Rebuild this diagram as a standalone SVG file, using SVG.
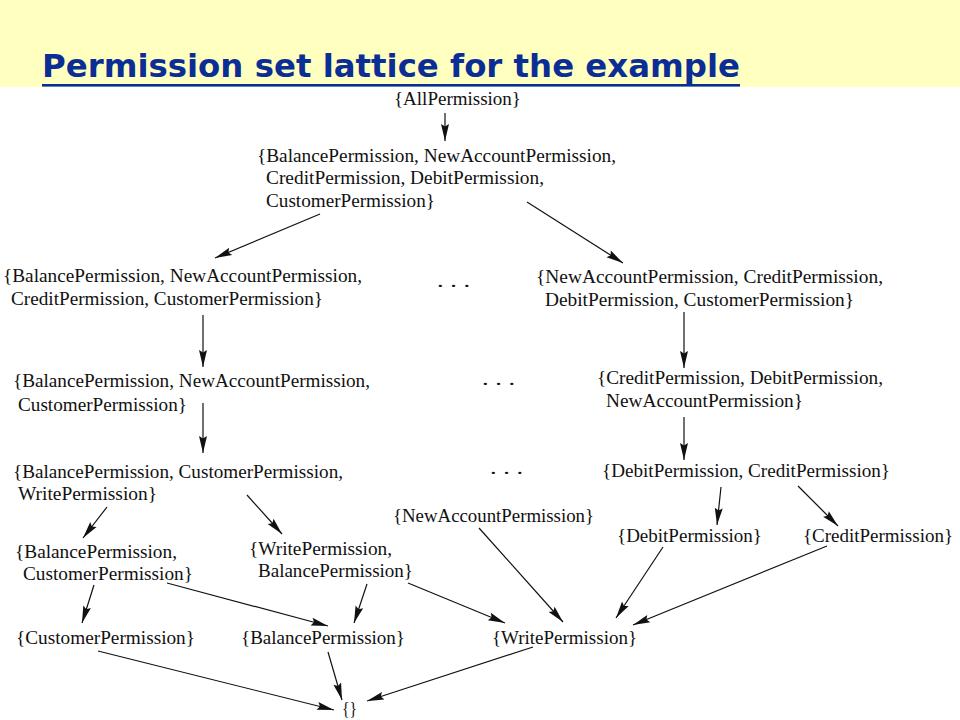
<svg xmlns="http://www.w3.org/2000/svg" width="960" height="720" viewBox="0 0 960 720">
<style>
.t{font-family:"Liberation Serif","Times New Roman",serif;font-size:19px;fill:#111}
.title{font-family:"DejaVu Sans","Noto Sans",sans-serif;font-weight:bold;font-size:32px;fill:#0a2d96}
.c line{stroke:#111;stroke-width:1.2;marker-end:url(#ah)}
</style>
<defs>
<marker id="ah" markerUnits="userSpaceOnUse" markerWidth="20" markerHeight="10" viewBox="-18 -5 19 10" refX="0" refY="0" orient="auto">
<path d="M0,0 L-17,-4 L-14.5,0 L-17,4 Z" fill="#111"/>
</marker>
</defs>
<rect x="0" y="0" width="960" height="720" fill="#fff"/>
<rect x="0" y="0" width="960" height="87" fill="#ffffc0"/>
<g id="title">
<text class="title" x="42" y="77" textLength="698" lengthAdjust="spacingAndGlyphs">Permission set lattice for the example</text>
<rect x="42" y="84" width="698" height="2.6" fill="#0a2d96"/>
</g>
<g id="n-all"><text class="t" x="394" y="105" textLength="127" lengthAdjust="spacingAndGlyphs">{AllPermission}</text></g>
<g id="n-bncdc">
<text class="t" x="257" y="162" textLength="359" lengthAdjust="spacingAndGlyphs">{BalancePermission, NewAccountPermission,</text>
<text class="t" x="266" y="184" textLength="278" lengthAdjust="spacingAndGlyphs">CreditPermission, DebitPermission,</text>
<text class="t" x="266" y="207" textLength="169" lengthAdjust="spacingAndGlyphs">CustomerPermission}</text>
</g>
<g id="n-bncc">
<text class="t" x="3" y="282" textLength="359" lengthAdjust="spacingAndGlyphs">{BalancePermission, NewAccountPermission,</text>
<text class="t" x="11" y="305" textLength="312" lengthAdjust="spacingAndGlyphs">CreditPermission, CustomerPermission}</text>
</g>
<g id="n-ncdc">
<text class="t" x="536" y="283" textLength="347" lengthAdjust="spacingAndGlyphs">{NewAccountPermission, CreditPermission,</text>
<text class="t" x="545" y="306" textLength="309" lengthAdjust="spacingAndGlyphs">DebitPermission, CustomerPermission}</text>
</g>
<g id="n-bnc">
<text class="t" x="13" y="387" textLength="357" lengthAdjust="spacingAndGlyphs">{BalancePermission, NewAccountPermission,</text>
<text class="t" x="18" y="411" textLength="169" lengthAdjust="spacingAndGlyphs">CustomerPermission}</text>
</g>
<g id="n-cdn">
<text class="t" x="597" y="384" textLength="286" lengthAdjust="spacingAndGlyphs">{CreditPermission, DebitPermission,</text>
<text class="t" x="606" y="407" textLength="197" lengthAdjust="spacingAndGlyphs">NewAccountPermission}</text>
</g>
<g id="n-bcw">
<text class="t" x="13" y="478" textLength="330" lengthAdjust="spacingAndGlyphs">{BalancePermission, CustomerPermission,</text>
<text class="t" x="18" y="500" textLength="139" lengthAdjust="spacingAndGlyphs">WritePermission}</text>
</g>
<g id="n-dc"><text class="t" x="602" y="477" textLength="288" lengthAdjust="spacingAndGlyphs">{DebitPermission, CreditPermission}</text></g>
<g id="n-n"><text class="t" x="393" y="522" textLength="201" lengthAdjust="spacingAndGlyphs">{NewAccountPermission}</text></g>
<g id="n-d"><text class="t" x="617" y="542" textLength="145" lengthAdjust="spacingAndGlyphs">{DebitPermission}</text></g>
<g id="n-c"><text class="t" x="803" y="542" textLength="150" lengthAdjust="spacingAndGlyphs">{CreditPermission}</text></g>
<g id="n-bc">
<text class="t" x="15" y="558" textLength="162" lengthAdjust="spacingAndGlyphs">{BalancePermission,</text>
<text class="t" x="23" y="580" textLength="170" lengthAdjust="spacingAndGlyphs">CustomerPermission}</text>
</g>
<g id="n-wb">
<text class="t" x="249" y="555" textLength="143" lengthAdjust="spacingAndGlyphs">{WritePermission,</text>
<text class="t" x="258" y="577" textLength="155" lengthAdjust="spacingAndGlyphs">BalancePermission}</text>
</g>
<g id="n-cu"><text class="t" x="16" y="644" textLength="179" lengthAdjust="spacingAndGlyphs">{CustomerPermission}</text></g>
<g id="n-b"><text class="t" x="241" y="644" textLength="164" lengthAdjust="spacingAndGlyphs">{BalancePermission}</text></g>
<g id="n-w"><text class="t" x="492" y="644" textLength="145" lengthAdjust="spacingAndGlyphs">{WritePermission}</text></g>
<g id="n-empty"><text class="t" x="342" y="715" textLength="15" lengthAdjust="spacingAndGlyphs">{}</text></g>
<g id="dots">
<text class="t" x="437" y="287" textLength="33" lengthAdjust="spacingAndGlyphs">. . .</text>
<text class="t" x="482" y="385" textLength="33" lengthAdjust="spacingAndGlyphs">. . .</text>
<text class="t" x="490" y="474" textLength="33" lengthAdjust="spacingAndGlyphs">. . .</text>
</g>
<g id="connectors" class="c">
<line x1="445" y1="113" x2="445" y2="141"/>
<line x1="320" y1="214" x2="215" y2="258"/>
<line x1="527" y1="202" x2="623" y2="263"/>
<line x1="203" y1="315" x2="203" y2="367"/>
<line x1="203" y1="403" x2="203" y2="453"/>
<line x1="684" y1="312" x2="684" y2="368"/>
<line x1="684" y1="417" x2="684" y2="460"/>
<line x1="107" y1="507" x2="83" y2="538"/>
<line x1="247" y1="495" x2="282" y2="534"/>
<line x1="721" y1="487" x2="717" y2="525"/>
<line x1="798" y1="486" x2="838" y2="526"/>
<line x1="94" y1="585" x2="82" y2="623"/>
<line x1="167" y1="583" x2="328" y2="626"/>
<line x1="367" y1="584" x2="354" y2="623"/>
<line x1="408" y1="583" x2="505" y2="623"/>
<line x1="479" y1="528" x2="563" y2="622"/>
<line x1="663" y1="547" x2="616" y2="618"/>
<line x1="827" y1="546" x2="633" y2="625"/>
<line x1="98" y1="651" x2="334" y2="710"/>
<line x1="328" y1="652" x2="342" y2="700"/>
<line x1="533" y1="647" x2="367" y2="701"/>
</g>
</svg>
